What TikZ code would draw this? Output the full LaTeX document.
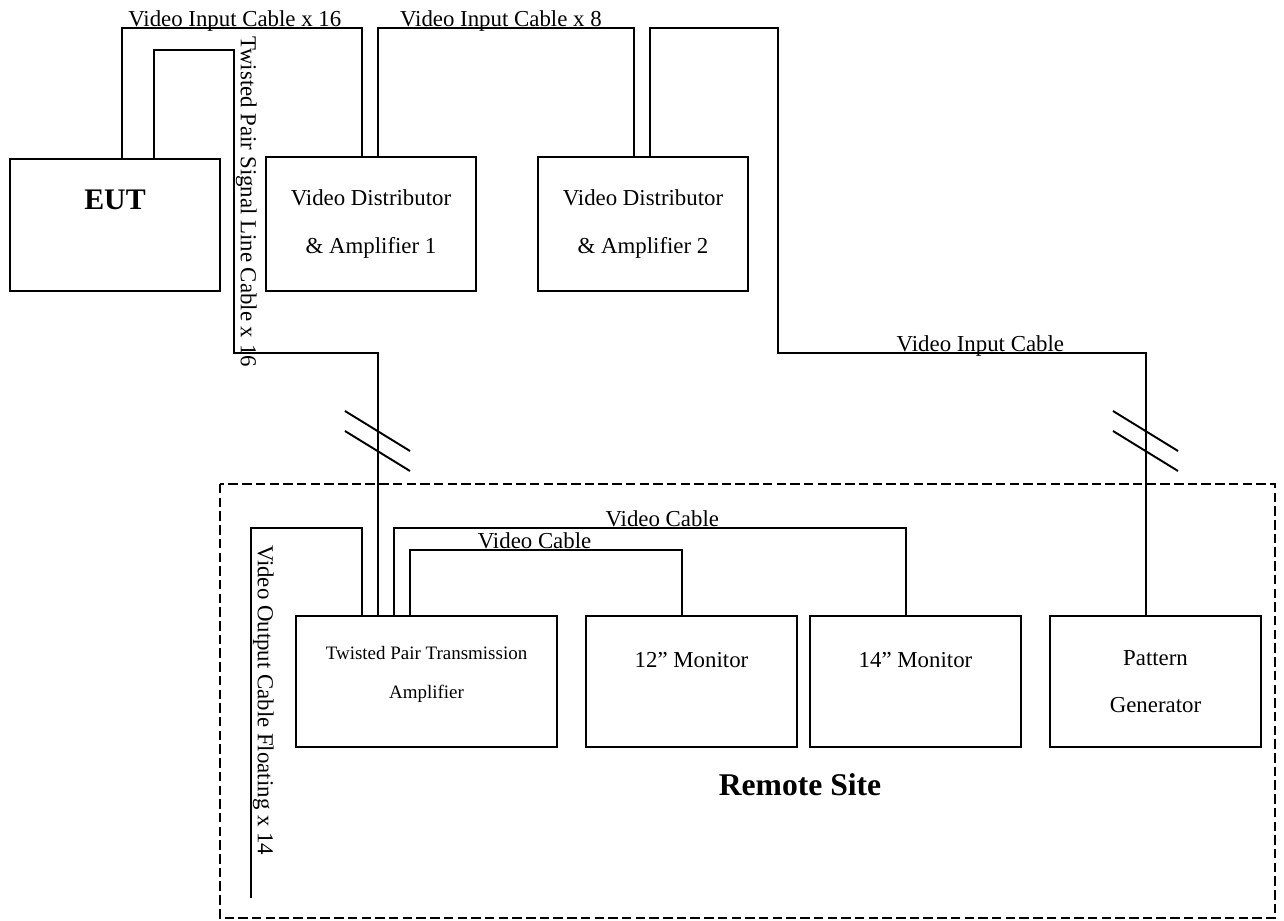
\documentclass[tikz,border=0pt]{standalone}
\usepackage{fontspec}
\setmainfont{Liberation Serif}
\usetikzlibrary{positioning}

\begin{document}
\begin{tikzpicture}[x=0.02cm, y=-0.02cm,
      unit/.style={draw, line width=1.1pt, inner sep=0pt,
                   minimum width=4.2cm, minimum height=2.64cm,
                   font=\fontsize{13}{27}\selectfont, align=center},
      cable/.style={line width=1.1pt},
      cablbl/.style={anchor=base, yshift=0.04cm, inner sep=0pt,
                     font=\fontsize{13}{15}\selectfont},
      vlbl/.style={rotate=-90, anchor=south, inner sep=0.5pt,
                   font=\fontsize{13}{15}\selectfont},
      site/.style={line width=1.6pt, dash pattern=on 5.4pt off 2.4pt}
    ]
      \useasboundingbox (0,0) rectangle (1284,920);

      % remote site frame
      \draw[site] (220,484) rectangle (1275,918);
      \node[font=\fontsize{18}{20}\selectfont\bfseries] (remote) at (800,785) {Remote Site};

      \node[unit, font=\fontsize{17}{20}\selectfont\bfseries, text depth=1cm] (eut) at (115,225) {EUT};
      \node[unit, minimum height=2.68cm] (vda1) at (371,224) {Video Distributor\\\& Amplifier 1};
      \node[unit, minimum height=2.68cm] (vda2) at (643,224) {Video Distributor\\\& Amplifier 2};
      \node[unit, minimum width=5.22cm, minimum height=2.62cm, text depth=10.4pt,
            font=\fontsize{10.8}{22}\selectfont] (tpta) at (426.5,681.5) {Twisted Pair Transmission\\Amplifier};
      \node[unit, minimum width=4.22cm, minimum height=2.62cm, text depth=0.86cm] (mon12) at (691.5,681.5) {12” Monitor};
      \node[unit, minimum width=4.22cm, minimum height=2.62cm, text depth=0.86cm] (mon14) at (915.5,681.5) {14” Monitor};
      \node[unit, minimum width=4.22cm, minimum height=2.62cm] (pg) at (1155.5,681.5) {Pattern\\Generator};
      \coordinate (fltend) at (251,898);

      \draw[cable] (eut.north -| 122,0) -- (122,28)
        -- node[cablbl, pos=0.47] (lblin16) {Video Input Cable x 16} (362,28) -- (vda1.north -| 362,0);
      \draw[cable] (vda1.north -| 378,0) -- (378,28)
        -- node[cablbl, pos=0.48] (lblin8) {Video Input Cable x 8} (634,28) -- (vda2.north -| 634,0);
      \draw[cable] (vda2.north -| 650,0) -- (650,28) -- (778,28) -- (778,353)
        -- node[cablbl, pos=0.55] (lblin) {Video Input Cable} (1146,353) -- (pg.north -| 1146,0);
      \draw[cable] (eut.north -| 154,0) -- (154,50) -- (234,50)
        -- node[vlbl, pos=0.5] (lbltp) {Twisted Pair Signal Line Cable x 16} (234,353) -- (378,353) -- (tpta.north -| 378,0);
      \draw[cable] (tpta.north -| 362,0) -- (362,528) -- (251,528)
        -- node[vlbl, pos=0.465] (lblflt) {Video Output Cable Floating x 14} (fltend);
      \draw[cable] (tpta.north -| 394,0) -- (394,528)
        -- node[cablbl, pos=0.524] (lblvc14) {Video Cable} (906,528) -- (mon14.north -| 906,0);
      \draw[cable] (tpta.north -| 410,0) -- (410,550)
        -- node[cablbl, pos=0.458] (lblvc12) {Video Cable} (682,550) -- (mon12.north -| 682,0);

      % break marks
      \foreach \x in {378,1146}
        \foreach \d in {0,20}
          \draw[cable] (\x-33,411+\d) -- (\x+32,451+\d);
    \end{tikzpicture}
\end{document}
